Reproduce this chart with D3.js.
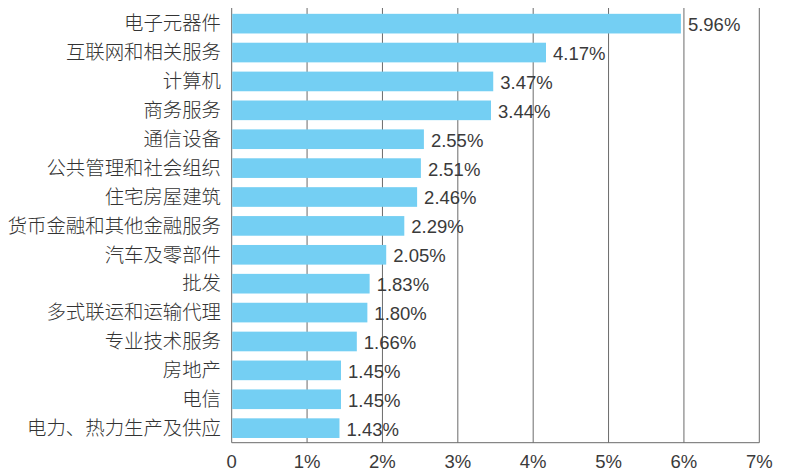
<!DOCTYPE html>
<html><head><meta charset="utf-8">
<script src="https://cdn.jsdelivr.net/npm/d3@7"></script>
<style>body{margin:0;background:#fff}svg{display:block}</style>
</head><body>
<svg id="c" width="789" height="475"></svg>
<script>
const categories = ["电子元器件","互联网和相关服务","计算机","商务服务","通信设备","公共管理和社会组织","住宅房屋建筑","货币金融和其他金融服务","汽车及零部件","批发","多式联运和运输代理","专业技术服务","房地产","电信","电力、热力生产及供应"];
const values = [5.96,4.17,3.47,3.44,2.55,2.51,2.46,2.29,2.05,1.83,1.80,1.66,1.45,1.45,1.43];
const valueLabels = ["5.96%","4.17%","3.47%","3.44%","2.55%","2.51%","2.46%","2.29%","2.05%","1.83%","1.80%","1.66%","1.45%","1.45%","1.43%"];
const tickValues = [0,1,2,3,4,5,6,7];
const tickLabels = ["0","1%","2%","3%","4%","5%","6%","7%"];

const svg = d3.select("#c");
const x = d3.scaleLinear().domain([0,7]).range([231.7,759.3]);
const y = d3.scaleBand().domain(categories).range([9.2,442.6]).paddingInner(0.32).paddingOuter(0.16);
const gridTop = 8, gridBottom = 442.7;
const font = "'Liberation Sans','Noto Sans CJK SC',sans-serif";
const cjk = "'Noto Sans CJK SC',sans-serif";

svg.append("g").selectAll("line").data(tickValues).join("line")
  .attr("x1", d=>x(d)).attr("x2", d=>x(d))
  .attr("y1", gridTop).attr("y2", gridBottom)
  .attr("stroke", "#6b6b6b").attr("stroke-width", 1);
svg.append("line").attr("x1", x(0)).attr("x2", x(7)).attr("y1", gridBottom).attr("y2", gridBottom)
  .attr("stroke", "#6b6b6b").attr("stroke-width", 1);

svg.append("g").selectAll("rect").data(values).join("rect")
  .attr("x", x(0)+0.5)
  .attr("y", (d,i)=>y(categories[i]))
  .attr("width", d=>x(d)-x(0)-0.5)
  .attr("height", y.bandwidth())
  .attr("fill", "#74cff3");

svg.append("g").selectAll("text").data(values).join("text")
  .attr("x", d=>x(d)+7)
  .attr("y", (d,i)=>y(categories[i])+y.bandwidth()/2+1)
  .attr("dy", "0.35em")
  .attr("font-family", font).attr("font-size", 18.5).attr("fill", "#3a3a3a")
  .text((d,i)=>valueLabels[i]);

svg.append("g").selectAll("text").data(categories).join("text")
  .attr("x", 221)
  .attr("y", d=>y(d)+y.bandwidth()/2)
  .attr("dy", "0.35em")
  .attr("text-anchor", "end")
  .attr("font-family", cjk).attr("font-size", 19.4).attr("font-weight", 300).attr("fill", "#333")
  .text(d=>d);

svg.append("g").selectAll("text").data(tickValues).join("text")
  .attr("x", d=>x(d))
  .attr("y", 462)
  .attr("dy", "0.35em")
  .attr("text-anchor", "middle")
  .attr("font-family", font).attr("font-size", 18.5).attr("fill", "#3a3a3a")
  .text((d,i)=>tickLabels[i]);
</script>
</body></html>
